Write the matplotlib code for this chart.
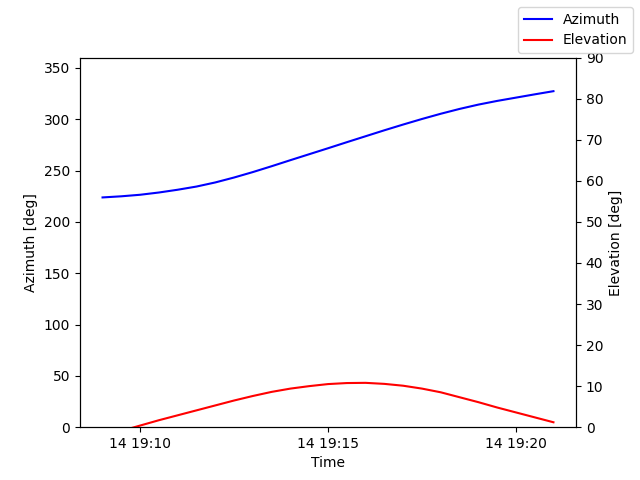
from datetime import datetime, timedelta

import matplotlib
matplotlib.use("Agg")
import matplotlib.pyplot as plt

# Satellite pass, sampled every 30 seconds
inicio = datetime(2023, 5, 14, 19, 9)
horarios = [inicio + timedelta(seconds=30 * i) for i in range(25)]
azimute = [223.8, 224.9, 226.4, 228.6, 231.3, 234.4, 238.4, 243.2,
           248.5, 254.2, 260.1, 265.9, 271.7, 277.6, 283.4, 289.2,
           294.8, 300.2, 305.3, 310.0, 314.2, 317.8, 321.0, 324.2,
           327.3]
elevacao = [-2.2, -0.9, 0.4, 1.7, 2.9, 4.1, 5.3, 6.5,
            7.6, 8.6, 9.4, 10.0, 10.5, 10.75, 10.8, 10.55,
            10.1, 9.4, 8.5, 7.3, 6.1, 4.8, 3.6, 2.4,
            1.2]

fig, ax = plt.subplots(figsize=(6.4, 4.8), dpi=100)
ax2 = ax.twinx()

ax.plot(horarios, azimute, color="blue", label="Azimuth")
ax2.plot(horarios, elevacao, color="red", label="Elevation")

ax.set_ylim(0, 360)
ax2.set_ylim(0, 90)
ax.set_xlabel("Time")
ax.set_ylabel("Azimuth [deg]")
ax2.set_ylabel("Elevation [deg]")

fig.legend(loc="upper right")

plt.savefig("out.png", dpi=100)
plt.close()
